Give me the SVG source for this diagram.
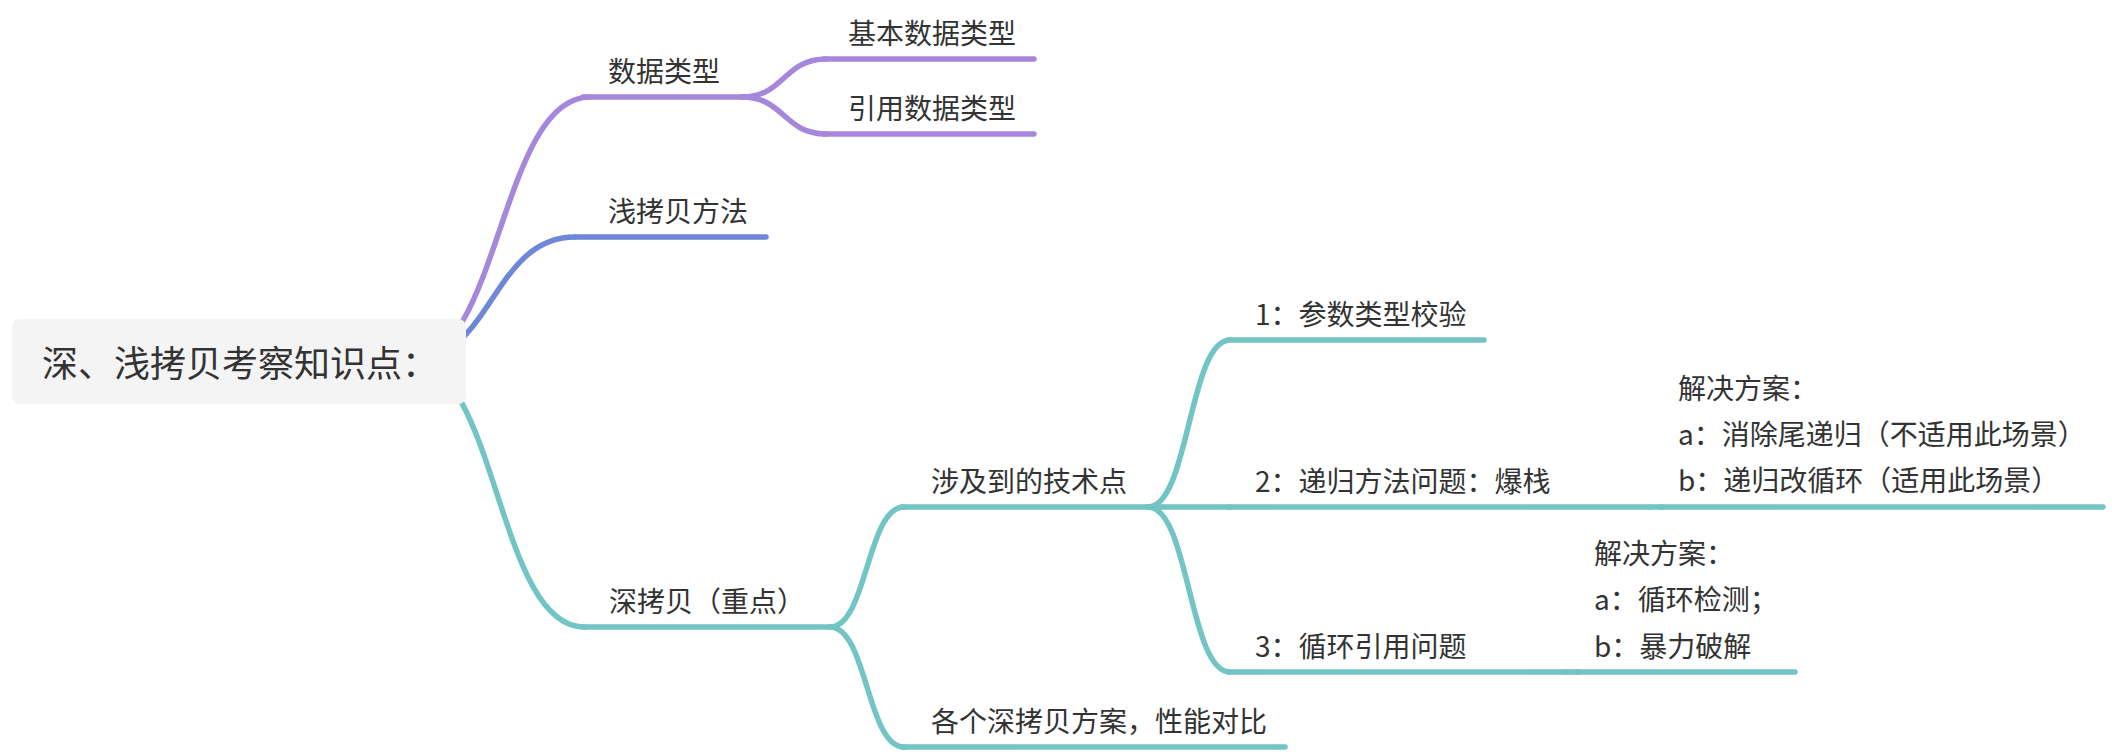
<svg xmlns="http://www.w3.org/2000/svg" width="2112" height="752" viewBox="0 0 2112 752">
<style>
  text { font-family: "Noto Sans CJK SC", "Noto Sans", sans-serif; fill: #333333; }
  .t28 { font-size: 28px; }
  .t36 { font-size: 36px; }
  .ln { fill: none; stroke-width: 5.5; stroke-linecap: round; stroke-linejoin: round; }
  .pu { stroke: #a588dc; }
  .bl { stroke: #6f87d8; }
  .te { stroke: #73c4c4; }
</style>
<rect width="2112" height="752" fill="#ffffff"/>
<g id="connectors">
  <path class="ln pu" d="M 410 361 C 500 361, 500 97, 590 97"/>
  <path class="ln bl" d="M 410 361 C 492 361, 492 237, 575 237"/>
  <path class="ln te" d="M 410 361 C 497 361, 497 627, 584 627"/>
  <path class="ln pu" d="M 742 97 C 784 97, 784 59, 826 59"/>
  <path class="ln pu" d="M 742 97 C 784 97, 784 134, 826 134"/>
  <path class="ln te" d="M 830 627 C 867 627, 867 507, 904 507"/>
  <path class="ln te" d="M 830 627 C 867 627, 867 747, 904 747"/>
  <path class="ln te" d="M 1148 507 C 1189 507, 1189 340, 1230 340"/>
  <path class="ln te" d="M 1148 507 L 1230 507"/>
  <path class="ln te" d="M 1148 507 C 1189 507, 1189 672, 1230 672"/>
  <path class="ln te" d="M 1650 507 L 1662 507"/>
  <path class="ln te" d="M 1566 672 L 1578 672"/>
</g>
<g id="root">
  <rect x="12" y="319" width="454" height="85" rx="8" ry="8" fill="#f4f4f4"/>
  <text class="t36" x="42" y="377">深、浅拷贝考察知识点：</text>
</g>
<g id="n-datatype">
  <path class="ln pu" d="M 583 97 L 742 97"/>
  <text class="t28" x="608" y="82">数据类型</text>
</g>
<g id="n-basic">
  <path class="ln pu" d="M 824 59 L 1034 59"/>
  <text class="t28" x="848" y="44">基本数据类型</text>
</g>
<g id="n-ref">
  <path class="ln pu" d="M 824 134 L 1034 134"/>
  <text class="t28" x="848" y="119">引用数据类型</text>
</g>
<g id="n-shallow">
  <path class="ln bl" d="M 575 237 L 766 237"/>
  <text class="t28" x="608" y="222">浅拷贝方法</text>
</g>
<g id="n-deep">
  <path class="ln te" d="M 583 627 L 830 627"/>
  <text class="t28" x="609" y="612">深拷贝（重点）</text>
</g>
<g id="n-tech">
  <path class="ln te" d="M 902 507 L 1148 507"/>
  <text class="t28" x="931" y="492">涉及到的技术点</text>
</g>
<g id="n-compare">
  <path class="ln te" d="M 902 747 L 1285 747"/>
  <text class="t28" x="931" y="732">各个深拷贝方案，性能对比</text>
</g>
<g id="n-1">
  <path class="ln te" d="M 1228 340 L 1484 340"/>
  <text class="t28" x="1255" y="325">1：参数类型校验</text>
</g>
<g id="n-2">
  <path class="ln te" d="M 1228 507 L 1650 507"/>
  <text class="t28" x="1255" y="492">2：递归方法问题：爆栈</text>
</g>
<g id="n-2-sol">
  <path class="ln te" d="M 1660 507 L 2103 507"/>
  <text class="t28" x="1678" y="399">解决方案：</text>
  <text class="t28" x="1678" y="445">a：消除尾递归（不适用此场景）</text>
  <text class="t28" x="1678" y="491">b：递归改循环（适用此场景）</text>
</g>
<g id="n-3">
  <path class="ln te" d="M 1228 672 L 1566 672"/>
  <text class="t28" x="1255" y="657">3：循环引用问题</text>
</g>
<g id="n-3-sol">
  <path class="ln te" d="M 1576 672 L 1795 672"/>
  <text class="t28" x="1594" y="564">解决方案：</text>
  <text class="t28" x="1594" y="610">a：循环检测；</text>
  <text class="t28" x="1594" y="657">b：暴力破解</text>
</g>
</svg>
